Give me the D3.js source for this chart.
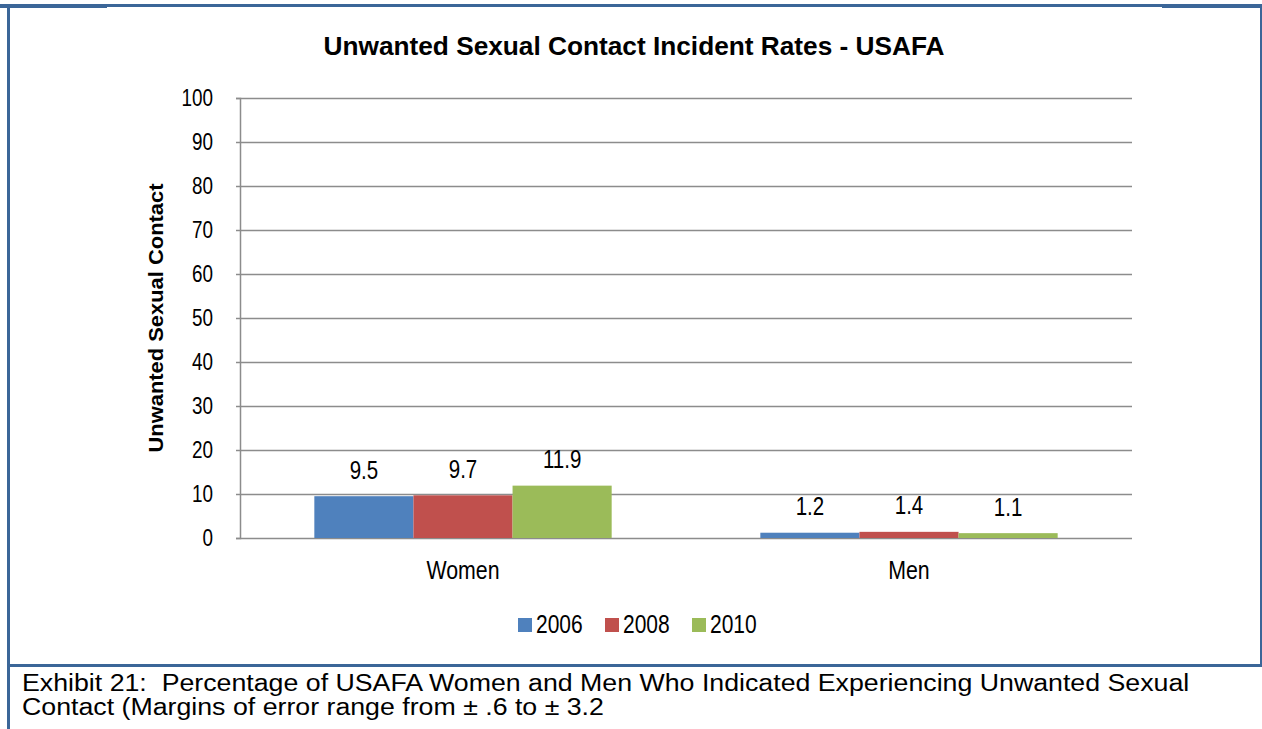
<!DOCTYPE html>
<html lang="en">
<head>
<meta charset="UTF-8">
<title>Unwanted Sexual Contact Incident Rates - USAFA</title>
<script src="https://d3js.org/d3.v7.min.js"></script>
<style>
  body { margin: 0; background: #fff; }
  svg text { fill: #000; font-family: "Liberation Sans", Arial, sans-serif; }
</style>
</head>
<body>
<div id="chart"></div>
<script>
// data
var groups = ["Women", "Men"];
var years = ["2006", "2008", "2010"];
var women = [9.5, 9.7, 11.9];
var men = [1.2, 1.4, 1.1];
var yTicks = [0, 10, 20, 30, 40, 50, 60, 70, 80, 90, 100];
var colors = ["#4f81bd", "#c0504d", "#9bbb59"];

var rows = [women, men];

var W = 1262, H = 729;
var plot = {left: 240, right: 1132, top: 98, bottom: 538};

// Arial Narrow is not installed: squeeze Liberation Sans horizontally instead
function squeeze(sel, f) {
    sel.each(function () {
        var w = this.getComputedTextLength();
        d3.select(this)
            .attr("textLength", w * f)
            .attr("lengthAdjust", "spacingAndGlyphs");
    });
}

var svg = d3.select("#chart").append("svg")
    .attr("width", W)
    .attr("height", H);

// frame (document table border)
var frameColor = "#3b6698";
svg.append("rect").attr("x", 7).attr("y", 4).attr("width", 3).attr("height", H - 4).attr("fill", frameColor);
svg.append("rect").attr("x", 0).attr("y", 4).attr("width", 107).attr("height", 4).attr("fill", frameColor);
svg.append("rect").attr("x", 7).attr("y", 4).attr("width", 1255).attr("height", 3).attr("fill", frameColor);
svg.append("rect").attr("x", 1162).attr("y", 4).attr("width", 100).attr("height", 4).attr("fill", frameColor);
svg.append("rect").attr("x", 1260).attr("y", 4).attr("width", 2).attr("height", 663).attr("fill", frameColor);
svg.append("rect").attr("x", 7).attr("y", 664).attr("width", 1255).attr("height", 3).attr("fill", frameColor);

// scales
var x0 = d3.scaleBand().domain(groups).range([plot.left, plot.right]).paddingInner(0).paddingOuter(0);
var groupW = x0.bandwidth() / 1.5;
var x1 = d3.scaleBand().domain(years).range([0, groupW]).padding(0);
var y = d3.scaleLinear().domain([0, 100]).range([plot.bottom, plot.top]);

// gridlines
svg.append("g")
    .selectAll("line")
    .data(yTicks)
    .join("line")
    .attr("x1", plot.left)
    .attr("x2", plot.right)
    .attr("y1", function (d) { return Math.round(y(d)) + 0.5; })
    .attr("y2", function (d) { return Math.round(y(d)) + 0.5; })
    .attr("stroke", "#8c8c8c")
    .attr("stroke-width", 1.5);

// y axis
var yAxis = svg.append("g")
    .attr("transform", "translate(" + plot.left + ",0)")
    .call(d3.axisLeft(y).tickValues(yTicks).tickSize(4).tickPadding(23).tickFormat(d3.format("d")));
yAxis.select(".domain").attr("stroke", "#8c8c8c").attr("stroke-width", 1.5);
yAxis.selectAll(".tick line").attr("stroke", "#8c8c8c").attr("stroke-width", 1.5);
yAxis.selectAll(".tick text")
    .attr("font-size", 23)
    .attr("fill", "#000")
    .attr("font-family", null)
    .call(squeeze, 0.82);

// bars
var g = svg.append("g")
    .selectAll("g")
    .data(groups)
    .join("g")
    .attr("transform", function (d) {
        return "translate(" + (x0(d) + (x0.bandwidth() - groupW) / 2) + ",0)";
    });

g.selectAll("rect")
    .data(function (d, i) {
        return rows[i].map(function (v, j) { return {year: years[j], value: v, color: colors[j]}; });
    })
    .join("rect")
    .attr("x", function (d) { return x1(d.year); })
    .attr("y", function (d) { return y(d.value); })
    .attr("width", x1.bandwidth())
    .attr("height", function (d) { return y(0) - y(d.value); })
    .attr("fill", function (d) { return d.color; });

// value labels
g.selectAll("text")
    .data(function (d, i) {
        return rows[i].map(function (v, j) { return {year: years[j], value: v}; });
    })
    .join("text")
    .attr("x", function (d) { return x1(d.year) + x1.bandwidth() / 2; })
    .attr("y", function (d) { return y(d.value) - 17.5; })
    .attr("text-anchor", "middle")
    .attr("font-size", 25)
    .text(function (d) { return d3.format(".1f")(d.value); })
    .call(squeeze, 0.82);

// category labels
svg.append("g")
    .selectAll("text")
    .data(groups)
    .join("text")
    .attr("x", function (d) { return x0(d) + x0.bandwidth() / 2; })
    .attr("y", 579)
    .attr("text-anchor", "middle")
    .attr("font-size", 26)
    .text(function (d) { return d; })
    .call(squeeze, 0.82);

// title
svg.append("text")
    .attr("x", 634)
    .attr("y", 55)
    .attr("text-anchor", "middle")
    .attr("font-size", 25)
    .attr("font-weight", "bold")
    .attr("textLength", 621)
    .attr("lengthAdjust", "spacingAndGlyphs")
    .text("Unwanted Sexual Contact Incident Rates - USAFA");

// y axis title
svg.append("text")
    .attr("transform", "translate(163," + ((plot.top + plot.bottom) / 2) + ") rotate(-90)")
    .attr("text-anchor", "middle")
    .attr("font-size", 21)
    .attr("font-weight", "bold")
    .attr("textLength", 269)
    .attr("lengthAdjust", "spacingAndGlyphs")
    .text("Unwanted Sexual Contact");

// legend
var legendX = [518, 605, 692];
var legend = svg.append("g")
    .selectAll("g")
    .data(years)
    .join("g")
    .attr("transform", function (d, i) { return "translate(" + legendX[i] + ",618)"; });
legend.append("rect")
    .attr("width", 14)
    .attr("height", 14)
    .attr("fill", function (d, i) { return colors[i]; });
legend.append("text")
    .attr("x", 18)
    .attr("y", 15)
    .attr("font-size", 25)
    .text(function (d) { return d; })
    .call(squeeze, 0.84);

// caption
var caption = [
    "Exhibit 21:  Percentage of USAFA Women and Men Who Indicated Experiencing Unwanted Sexual",
    "Contact (Margins of error range from \u00b1 .6 to \u00b1 3.2"
];
svg.append("g")
    .selectAll("text")
    .data(caption)
    .join("text")
    .attr("x", 22)
    .attr("y", function (d, i) { return 691 + i * 24; })
    .attr("font-size", 23)
    .attr("xml:space", "preserve")
    .style("white-space", "pre")
    .text(function (d) { return d; })
    .call(squeeze, 1.162);
</script>
</body>
</html>
